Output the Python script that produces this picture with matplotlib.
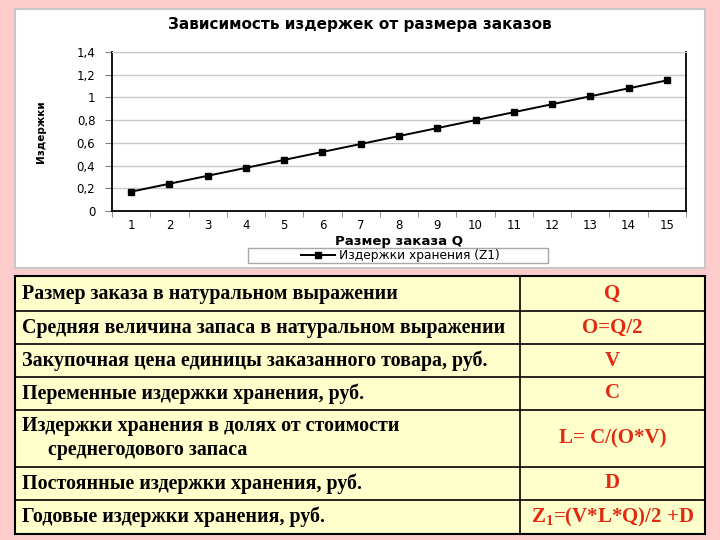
import matplotlib.pyplot as plt
from matplotlib.patches import Rectangle
from matplotlib.ticker import FuncFormatter

plt.rcParams['mathtext.fontset'] = 'custom'
plt.rcParams['mathtext.rm'] = 'Liberation Serif'
plt.rcParams['mathtext.bf'] = 'Liberation Serif:bold'

# chart data
q = list(range(1, 16))
z1 = [0.17, 0.24, 0.31, 0.38, 0.45, 0.52, 0.59, 0.66, 0.73, 0.80, 0.87, 0.94, 1.01, 1.08, 1.15]

# table data
row_names = [
    'Размер заказа в натуральном выражении',
    'Средняя величина запаса в натуральном выражении',
    'Закупочная цена единицы заказанного товара, руб.',
    'Переменные издержки хранения, руб.',
    'Издержки хранения в долях от стоимости\nсреднегодового запаса',
    'Постоянные издержки хранения, руб.',
    'Годовые издержки хранения, руб.',
]
row_formulas = ['Q', 'O=Q/2', 'V', 'C', 'L= C/(O*V)', 'D', r'Z$_\mathbf{1}$=(V*L*Q)/2 +D']

fig = plt.figure(figsize=(7.2, 5.4), dpi=100)
fig.patch.set_facecolor('#FFCCCC')

# background layer in pixel coordinates
bg = fig.add_axes([0, 0, 1, 1])
bg.set_xlim(0, 720)
bg.set_ylim(540, 0)
bg.axis('off')
bg.add_patch(Rectangle((15, 9), 690, 259, facecolor='white', edgecolor='#C8C8C8', lw=1.5))
# legend frame
bg.add_patch(Rectangle((248, 248), 300, 15, facecolor='white', edgecolor='#A8A8A8', lw=1))

# table
row_edges = [276, 311, 344, 377, 410, 467, 500, 534]
split_x = 520
bg.add_patch(Rectangle((15, row_edges[0]), 690, row_edges[-1] - row_edges[0],
                       facecolor='#FFFFCC', edgecolor='black', lw=1.5))
for y in row_edges[1:-1]:
    bg.plot([15, 705], [y, y], color='black', lw=1.2)
bg.plot([split_x, split_x], [row_edges[0], row_edges[-1]], color='black', lw=1.2)

serif = 'Liberation Serif'
fs = 14.4
for i, (name, formula) in enumerate(zip(row_names, row_formulas)):
    top, bottom = row_edges[i], row_edges[i + 1]
    mid = (top + bottom) / 2
    lines = name.split('\n')
    if len(lines) == 1:
        bg.text(22, mid, name, ha='left', va='center', fontsize=fs,
                fontweight='bold', family=serif, color='black')
    else:
        bg.text(22, mid - 12, lines[0], ha='left', va='center', fontsize=fs,
                fontweight='bold', family=serif, color='black')
        bg.text(48, mid + 12, lines[1], ha='left', va='center', fontsize=fs,
                fontweight='bold', family=serif, color='black')
    bg.text((split_x + 705) / 2, mid, formula, ha='center', va='center', fontsize=15,
            fontweight='bold', family=serif, color='#E02A12')

# chart
ax = fig.add_axes([112 / 720, 1 - 211 / 540, 574 / 720, 159 / 540])
ax.set_facecolor('white')
ax.plot(q, z1, color='black', marker='s', markersize=4, lw=1.4,
        label='Издержки хранения (Z1)')
ax.set_xlim(0.5, 15.5)
ax.set_ylim(0, 1.4)
ax.set_xticks(q)
ax.set_xticks([x + 0.5 for x in range(0, 16)], minor=True)
ax.tick_params(axis='x', which='major', length=0, pad=6, labelsize=8.5)
ax.tick_params(axis='x', which='minor', length=4, color='#808080')
ax.set_yticks([0, 0.2, 0.4, 0.6, 0.8, 1.0, 1.2, 1.4])
ax.yaxis.set_major_formatter(FuncFormatter(lambda v, p: f'{v:g}'.replace('.', ',')))
ax.tick_params(axis='y', length=5, color='#808080', pad=7, labelsize=8.5)
ax.grid(axis='y', color='#C8C8C8', lw=1)
ax.set_axisbelow(True)
for side in ['left', 'bottom', 'right']:
    ax.spines[side].set_color('black')
    ax.spines[side].set_linewidth(1.3)
ax.spines['top'].set_color('#C8C8C8')

ax.set_ylabel('Издержки', fontsize=7.5, fontweight='bold')
ax.yaxis.set_label_coords(-0.115, 0.5)

fig.text(360 / 720, 1 - 25 / 540, 'Зависимость издержек от размера заказов',
         ha='center', va='center', fontsize=11, fontweight='bold')
fig.text(399 / 720, 1 - 241 / 540, 'Размер заказа Q',
         ha='center', va='center', fontsize=9.5, fontweight='bold')

ax.legend(loc='center', bbox_to_anchor=(400 / 720, 1 - 255.5 / 540),
          bbox_transform=fig.transFigure, frameon=False,
          fontsize=8.8, handlelength=2.8, borderpad=0.1, handletextpad=0.3)

fig.savefig('out.png', dpi=100, facecolor=fig.get_facecolor())
